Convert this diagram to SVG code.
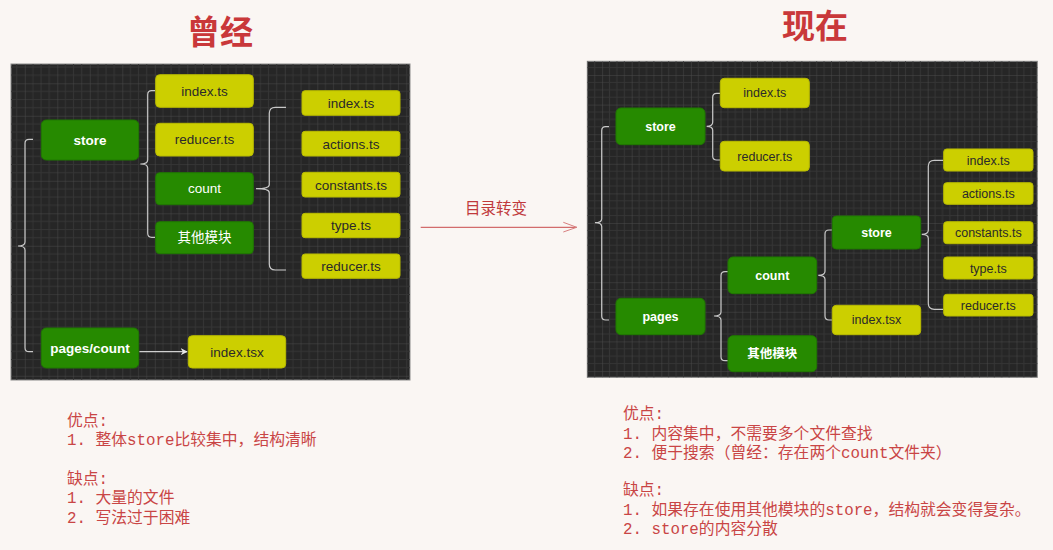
<svg xmlns="http://www.w3.org/2000/svg" width="1053" height="550" viewBox="0 0 1053 550">
<defs>
<pattern id="gridL" x="24.8" y="18.3" width="32.5" height="32.5" patternUnits="userSpaceOnUse">
<path d="M8.125,0V32.5M16.25,0V32.5M24.375,0V32.5M0,8.125H32.5M0,16.25H32.5M0,24.375H32.5" stroke="#353535" stroke-width="1" fill="none"/>
<path d="M0,0V32.5M0,0H32.5" stroke="#4a4a4a" stroke-width="1" fill="none"/>
</pattern>
<pattern id="gridR" x="631.7" y="75" width="29.6" height="29.6" patternUnits="userSpaceOnUse">
<path d="M7.4,0V29.6M14.8,0V29.6M22.2,0V29.6M0,7.4H29.6M0,14.8H29.6M0,22.2H29.6" stroke="#353535" stroke-width="1" fill="none"/>
<path d="M0,0V29.6M0,0H29.6" stroke="#4a4a4a" stroke-width="1" fill="none"/>
</pattern>
<marker id="arrW" viewBox="0 0 10 10" refX="9" refY="5" markerWidth="7" markerHeight="7" orient="auto" markerUnits="userSpaceOnUse">
<path d="M0,0 L10,5 L0,10 L3,5 Z" fill="#e8e8e8"/>
</marker>
</defs>
<style>
.g{fill:#268a00;stroke:#1f7800;stroke-width:1}
.y{fill:#cccf00;stroke:#b8bb00;stroke-width:1}
.br{fill:none;stroke:#c8c8c8;stroke-width:1.2}
.tw{font-family:"Liberation Sans","Noto Sans CJK SC",sans-serif;fill:#ffffff;text-anchor:middle}
.tb{font-weight:bold}
.ty{font-family:"Liberation Sans","Noto Sans CJK SC",sans-serif;fill:#2a2a2a;text-anchor:middle}
.title{font-family:"Noto Sans CJK SC",sans-serif;font-weight:bold;fill:#c9383a;text-anchor:middle}
.note{font-family:"Liberation Mono","Noto Sans CJK SC",monospace;font-size:15.8px;fill:#c94545}
</style>
<rect width="1053" height="550" fill="#faf6f3"/>

<text class="title" x="220" y="44" font-size="33">曾经</text>
<text class="title" x="815" y="37.5" font-size="33">现在</text>

<!-- panels -->
<rect x="11" y="64" width="399" height="316" fill="#262626" stroke="#8a8a8a" stroke-width="1"/>
<rect x="11" y="64" width="399" height="316" fill="url(#gridL)"/>
<rect x="587.3" y="61.3" width="450" height="316" fill="#262626" stroke="#8a8a8a" stroke-width="1"/>
<rect x="587.3" y="61.3" width="450" height="316" fill="url(#gridR)"/>

<g id="connectors">
<path class="br" d="M33,139.3H29Q25,139.3 25,143.3V242Q25,246 18,246Q25,246 25,250V347.7Q25,351.7 29,351.7H33"/>
<path class="br" d="M155,90.7H151.7Q147.7,90.7 147.7,94.7V160Q147.7,164 140.3,164Q147.7,164 147.7,168V233.3Q147.7,237.3 151.7,237.3H155"/>
<path class="br" d="M286,107.3H275.3Q269.3,107.3 269.3,113.3V184.7Q269.3,188.7 256,188.7Q269.3,188.7 269.3,192.7V264Q269.3,270 275.3,270H286"/>
<line x1="139.3" y1="351.7" x2="187" y2="351.7" stroke="#d0d0d0" stroke-width="1.2" marker-end="url(#arrW)"/>

<path class="br" d="M609,126.7H605.7Q601.7,126.7 601.7,130.7V218.7Q601.7,222.7 595,222.7Q601.7,222.7 601.7,226.7V316Q601.7,320 605.7,320H609"/>
<path class="br" d="M720,93.3H716.7Q712.7,93.3 712.7,97.3V122.3Q712.7,126.3 706.7,126.3Q712.7,126.3 712.7,130.3V156Q712.7,160 716.7,160H720"/>
<path class="br" d="M728,271.7H725Q721,271.7 721,275.7V312Q721,316 714,316Q721,316 721,320V356.7Q721,360.7 725,360.7H728"/>
<path class="br" d="M832,230H829Q825,230 825,234V271.3Q825,275.3 818.3,275.3Q825,275.3 825,279.3V316Q825,320 829,320H832"/>
<path class="br" d="M943.3,160.3H934.3Q928.3,160.3 928.3,166.3V230.3Q928.3,234.3 921.7,234.3Q928.3,234.3 928.3,238.3V303.3Q928.3,309.3 934.3,309.3H943.3"/>

<line x1="420.7" y1="227.3" x2="576.7" y2="227.3" stroke="#c84a4a" stroke-width="1"/>
<path d="M563.3,222.3L576.7,227.3L563.3,232" fill="none" stroke="#d88080" stroke-width="1"/>
</g>
<text x="496" y="214" font-family="'Noto Sans CJK SC',sans-serif" font-size="15.5" fill="#c0393b" text-anchor="middle">目录转变</text>

<!-- left nodes -->
<g id="L-store"><rect class="g" x="41.3" y="120" width="97.4" height="40" rx="5"/><text class="tw tb" x="90" y="145" font-size="13.5">store</text></g>
<g id="L-index"><rect class="y" x="155.7" y="74.7" width="97.6" height="32.6" rx="4"/><text class="ty" x="204.5" y="95.8" font-size="13.5">index.ts</text></g>
<g id="L-reducer"><rect class="y" x="155.7" y="123.3" width="97.6" height="32.7" rx="4"/><text class="ty" x="204.5" y="144.4" font-size="13.5">reducer.ts</text></g>
<g id="L-count"><rect class="g" x="155.7" y="172.7" width="97.6" height="32" rx="4"/><text class="tw" x="204.5" y="193.4" font-size="13.5">count</text></g>
<g id="L-other"><rect class="g" x="155.7" y="221.7" width="97.6" height="32" rx="4"/><text class="tw" x="204.5" y="242.4" font-size="13.5">其他模块</text></g>
<g id="L-c-index"><rect class="y" x="302" y="90.7" width="98" height="24.6" rx="3"/><text class="ty" x="351" y="107.8" font-size="13.5">index.ts</text></g>
<g id="L-c-actions"><rect class="y" x="302" y="131.3" width="98" height="24.7" rx="3"/><text class="ty" x="351" y="148.5" font-size="13.5">actions.ts</text></g>
<g id="L-c-constants"><rect class="y" x="302" y="172.3" width="98" height="24.7" rx="3"/><text class="ty" x="351" y="189.5" font-size="13.5">constants.ts</text></g>
<g id="L-c-type"><rect class="y" x="302" y="213.3" width="98" height="24.4" rx="3"/><text class="ty" x="351" y="230.4" font-size="13.5">type.ts</text></g>
<g id="L-c-reducer"><rect class="y" x="302" y="254" width="98" height="24.3" rx="3"/><text class="ty" x="351" y="271" font-size="13.5">reducer.ts</text></g>
<g id="L-pages"><rect class="g" x="41.3" y="328" width="97.4" height="40" rx="5"/><text class="tw tb" x="90" y="353" font-size="13.5">pages/count</text></g>
<g id="L-indextsx"><rect class="y" x="188.3" y="335.7" width="97.4" height="32.3" rx="4"/><text class="ty" x="237" y="356.6" font-size="13.5">index.tsx</text></g>

<!-- right nodes -->
<g id="R-store"><rect class="g" x="616" y="108" width="89" height="36.7" rx="5"/><text class="tw tb" x="660.5" y="130.8" font-size="12.5">store</text></g>
<g id="R-index"><rect class="y" x="720.3" y="78.3" width="89" height="29.4" rx="4"/><text class="ty" x="764.8" y="97.4" font-size="12.5">index.ts</text></g>
<g id="R-reducer"><rect class="y" x="720.3" y="141.3" width="89" height="29.7" rx="4"/><text class="ty" x="764.8" y="160.6" font-size="12.5">reducer.ts</text></g>
<g id="R-pages"><rect class="g" x="616" y="298.3" width="89" height="36.4" rx="5"/><text class="tw tb" x="660.5" y="320.9" font-size="12.5">pages</text></g>
<g id="R-count"><rect class="g" x="728" y="257" width="88.7" height="36.7" rx="5"/><text class="tw tb" x="772.3" y="279.8" font-size="12.5">count</text></g>
<g id="R-other"><rect class="g" x="728" y="335.7" width="88.7" height="36" rx="5"/><text class="tw tb" x="772.3" y="358.2" font-size="12.5">其他模块</text></g>
<g id="R-store2"><rect class="g" x="832.3" y="216" width="88.4" height="33" rx="4"/><text class="tw tb" x="876.5" y="236.9" font-size="12.5">store</text></g>
<g id="R-indextsx"><rect class="y" x="832.3" y="305.3" width="88.4" height="29.4" rx="4"/><text class="ty" x="876.5" y="324.4" font-size="12.5">index.tsx</text></g>
<g id="R-s-index"><rect class="y" x="943.7" y="149" width="89.3" height="22" rx="3"/><text class="ty" x="988.3" y="164.5" font-size="12.5">index.ts</text></g>
<g id="R-s-actions"><rect class="y" x="943.7" y="182.7" width="89.3" height="21.6" rx="3"/><text class="ty" x="988.3" y="198" font-size="12.5">actions.ts</text></g>
<g id="R-s-constants"><rect class="y" x="943.7" y="221.7" width="89.3" height="22" rx="3"/><text class="ty" x="988.3" y="237.2" font-size="12.5">constants.ts</text></g>
<g id="R-s-type"><rect class="y" x="943.7" y="257" width="89.3" height="22" rx="3"/><text class="ty" x="988.3" y="272.5" font-size="12.5">type.ts</text></g>
<g id="R-s-reducer"><rect class="y" x="943.7" y="294.3" width="89.3" height="21.7" rx="3"/><text class="ty" x="988.3" y="309.7" font-size="12.5">reducer.ts</text></g>

<!-- notes -->
<g id="notes-left">
<text class="note" x="67" y="426">优点:</text>
<text class="note" x="67" y="445">1. 整体store比较集中，结构清晰</text>
<text class="note" x="67" y="484">缺点:</text>
<text class="note" x="67" y="503">1. 大量的文件</text>
<text class="note" x="67" y="523">2. 写法过于困难</text>
</g>
<g id="notes-right">
<text class="note" x="623" y="419">优点:</text>
<text class="note" x="623" y="439">1. 内容集中，不需要多个文件查找</text>
<text class="note" x="623" y="458">2. 便于搜索（曾经：存在两个count文件夹）</text>
<text class="note" x="623" y="495">缺点:</text>
<text class="note" x="623" y="515">1. 如果存在使用其他模块的store，结构就会变得复杂。</text>
<text class="note" x="623" y="534">2. store的内容分散</text>
</g>
</svg>
